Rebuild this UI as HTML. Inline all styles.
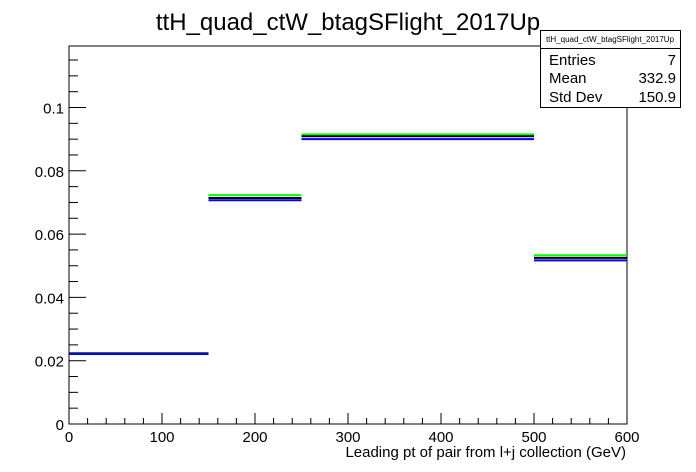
<!DOCTYPE html>
<html><head><meta charset="utf-8"><style>
body{margin:0;background:#fff;}
svg{display:block;font-family:"Liberation Sans",sans-serif;}
</style></head><body>
<svg id="c" width="696" height="472">
<text x="348" y="30" font-size="24" text-anchor="middle">ttH_quad_ctW_btagSFlight_2017Up</text>
<rect x="69" y="46" width="558" height="378" fill="none" stroke="#000" stroke-width="1"/>
<g id="axes"></g>
<g id="series"></g>
<text x="626" y="457" font-size="15" text-anchor="end">Leading pt of pair from l+j collection (GeV)</text>
<g>
<rect x="540.5" y="30.5" width="140" height="77" fill="#fff" stroke="#000"/>
<line x1="540" y1="48.5" x2="681" y2="48.5" stroke="#000"/>
<text x="610" y="42" font-size="8" text-anchor="middle">ttH_quad_ctW_btagSFlight_2017Up</text>
<text x="549" y="65" font-size="15">Entries</text><text x="676" y="65" font-size="15" text-anchor="end">7</text>
<text x="549" y="83" font-size="15">Mean</text><text x="676" y="83" font-size="15" text-anchor="end">332.9</text>
<text x="549" y="102" font-size="15">Std Dev</text><text x="676" y="102" font-size="15" text-anchor="end">150.9</text>
</g>
</svg>
<script>
const binEdges=[0,150,250,500,600];
const upValues=[0.0223,0.0723,0.0915,0.0533];
const nominalValues=[0.0223,0.0714,0.0909,0.0525];
const downValues=[0.0221,0.0707,0.0900,0.0517];
const xTicks=[0,100,200,300,400,500,600];
const yTicks=[0,0.02,0.04,0.06,0.08,0.1];
const yTickLabels=["0","0.02","0.04","0.06","0.08","0.1"];
const NS="http://www.w3.org/2000/svg";
const X0=69,X1=627,Y0=424,Y1=46;
const sx=v=>X0+(v-0)/600*(X1-X0);
const sy=v=>Y0-v*3165;
function mk(tag,attrs,parent){const e=document.createElementNS(NS,tag);for(const k in attrs)e.setAttribute(k,attrs[k]);parent.appendChild(e);return e;}
const ax=document.getElementById('axes');
for(let v=0;v<=600;v+=20){const maj=v%100===0;const t=mk('line',{x1:sx(v),x2:sx(v),y1:Y0,y2:Y0-(maj?11:6),stroke:'#000'},ax);

}
xTicks.forEach(v=>{const t=mk('text',{x:sx(v),y:442,'font-size':15,'text-anchor':'middle'},ax);t.textContent=v;

});
for(let i=0;i*0.005<=0.119;i++){const v=i*0.005;const maj=i%4===0;const t=mk('line',{x1:X0,x2:X0+(maj?17:9),y1:sy(v),y2:sy(v),stroke:'#000'},ax);

}
yTicks.forEach((v,i)=>{const t=mk('text',{x:64,y:sy(v)+6,'font-size':15,'text-anchor':'end'},ax);t.textContent=yTickLabels[i];

});
const sg=document.getElementById('series');
[[upValues,'#00ff00','up'],[nominalValues,'#000000','nominal'],[downValues,'#0000ff','down']].forEach(([vals,col,nm])=>{
vals.forEach((v,i)=>{const l=mk('line',{x1:sx(binEdges[i]),x2:sx(binEdges[i+1]),y1:sy(v),y2:sy(v),stroke:col,'stroke-width':2},sg);

});
});
</script>
</body></html>
